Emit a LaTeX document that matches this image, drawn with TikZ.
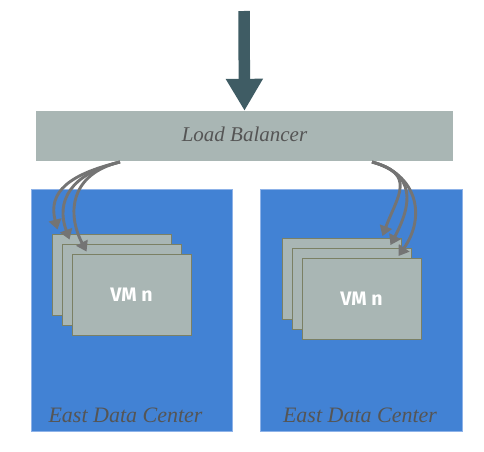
\documentclass[tikz,border=0pt]{standalone}
\usepackage{fontspec}
\usepackage{tikz}
\usetikzlibrary{arrows.meta,calc}

\newfontfamily\vmfont{Fira Sans}
\newfontfamily\labelfont{Liberation Serif}
\definecolor{lbgray}{HTML}{A9B6B4}
\definecolor{dcblue}{HTML}{4282D4}
\definecolor{dcedge}{HTML}{8DB2E8}
\definecolor{vmedge}{HTML}{7B8064}
\definecolor{flowgray}{HTML}{747474}
\definecolor{slate}{HTML}{3F5C64}
\definecolor{txtgray}{HTML}{555555}

\begin{document}
\begin{tikzpicture}[x=1pt,y=1pt,
	dc/.style={fill=dcblue, draw=dcedge, line width=0.8pt, minimum width=201pt, minimum height=242pt, inner sep=0pt},
	vm/.style={fill=lbgray, draw=vmedge, line width=0.9pt, minimum width=119pt, minimum height=81pt, inner sep=0pt, text=white, font=\vmfont\bfseries\fontsize{19.5}{22}\selectfont},
	label/.style={text=txtgray, font=\labelfont\itshape\fontsize{22}{24}\selectfont, anchor=base},
	flow/.style={draw=flowgray, line width=2.9pt, -{Triangle[length=10pt,width=12.5pt]}}]
	\useasboundingbox (0,0) rectangle (484,451);

	% data centers
	\node[dc] (dcl) at (131.5,141) {};
	\node[dc, minimum width=202pt] (dcr) at (361,141) {};
	\node[label] (dcltext) at (125.5,29) {East Data Center};
	\node[label] (dcrtext) at (360,29) {East Data Center};

	% load balancer
	\node[fill=lbgray, minimum width=417pt, minimum height=50pt, inner sep=0pt] (lb) at (244.5,315) {};
	\node[label, font=\labelfont\itshape\fontsize{21}{24}\selectfont] (lbtext) at (244.5,309.5) {Load Balancer};
	\coordinate (in) at (244,440);
	\draw[slate, line width=11.5pt, -{Triangle[length=32pt,width=35pt]}] (in) -- (lb.north);

	% virtual machines
	\foreach \i/\t in {1/{},2/{},3/{VM n}}
		\node[vm] (l\i) at (101.5+10*\i,186.5-10*\i) {\t};
	\foreach \i/\t in {1/{},2/{},3/{VM n}}
		\node[vm] (r\i) at (331.5+10*\i,182-10*\i) {\t};

	% balancing
	\coordinate (lbl) at (120,289);
	\coordinate (lbr) at (372,289);
	\foreach \i/\dx/\dy/\cx in {1/6/4/-10, 2/8/4/-14, 3/15/2/-20}
		\draw[flow] (lbl) .. controls +(-50,-12) and +(\cx,38) .. ($(l\i.north west)+(\dx,\dy)$);
	\foreach \i/\dx/\dy/\cx in {1/-19/2/15, 2/-21/3/21, 3/-23/2/28}
		\draw[flow] (lbr) .. controls +(45,-12) and +(\cx,40) .. ($(r\i.north east)+(\dx,\dy)$);

\end{tikzpicture}
\end{document}
